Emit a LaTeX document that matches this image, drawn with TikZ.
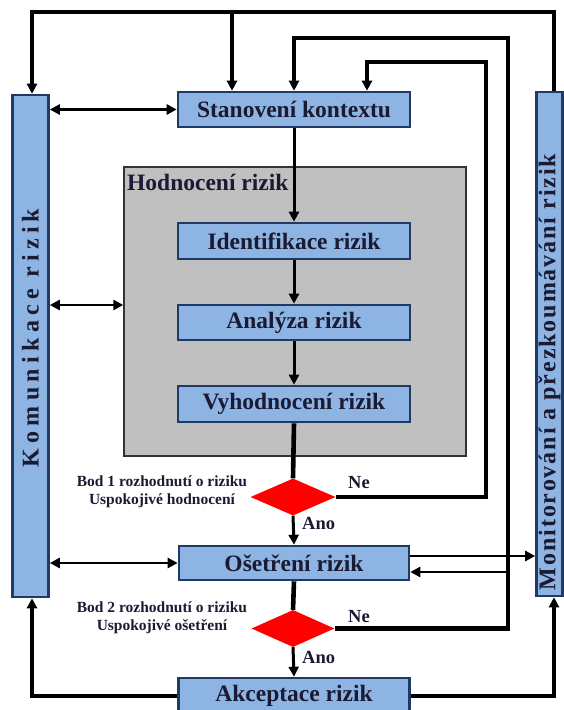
\documentclass[tikz,border=0pt]{standalone}
\usepackage{fontspec}
\setmainfont{Liberation Serif}
\usetikzlibrary{arrows.meta,shapes.geometric}
\definecolor{boxfill}{HTML}{8DB4E2}
\definecolor{boxline}{HTML}{1F3A64}
\definecolor{grayfill}{HTML}{C0C0C0}
\definecolor{txt}{HTML}{1A1A33}
\begin{document}
\begin{tikzpicture}[x=1pt,y=-1pt,
  bluebox/.style={draw=boxline, line width=2.6pt, fill=boxfill, inner sep=0pt,
    font=\fontsize{23.5}{25}\selectfont\bfseries, text=txt},
  dec/.style={diamond, fill=red, draw=none, inner sep=0pt},
  frame/.style={line width=3.6pt, draw=black},
  loopl/.style={line width=4.6pt, draw=black},
  dbl/.style={line width=2.8pt, {Triangle[length=10pt,width=10pt]}-{Triangle[length=10pt,width=10pt]}},
  arr/.style={-{Triangle[length=10pt,width=10pt]}},
  flow/.style={line width=3pt},
  small/.style={font=\fontsize{15.5}{18}\selectfont\bfseries, text=txt, align=center, inner sep=0pt},
  yn/.style={font=\fontsize{18.5}{20}\selectfont\bfseries, text=txt, inner sep=0pt, anchor=west},
  side/.style={font=\fontsize{24}{26}\selectfont\bfseries, text=txt, inner sep=0pt, rotate=90}
]
\useasboundingbox (0,0) rectangle (563,710);

% side boxes
\node[bluebox, minimum width=36pt, minimum height=502pt] (kom) at (30.5,346) {};
\node[side] (komt) at (30.5,338) {\addfontfeatures{LetterSpace=22}Komunikace rizik};
\node[bluebox, minimum width=26pt, minimum height=504pt] (mon) at (549.5,344) {};
\node[side] (mont) at (549.5,372) {\addfontfeatures{LetterSpace=8}Monitorování a přezkoumávání rizik};

% gray group
\node[draw=black!80, line width=1.4pt, fill=grayfill, minimum width=342pt, minimum height=289pt, inner sep=0pt] (hod) at (295,311.5) {};
\node[anchor=base west, font=\fontsize{23.5}{25}\selectfont\bfseries, text=txt, inner sep=0pt] (hodt) at (127,190) {Hodnocení rizik};

% main boxes
\node[bluebox, minimum width=232pt, minimum height=35pt] (stan) at (294,109.5) {Stanovení kontextu};
\node[bluebox, minimum width=232pt, minimum height=36pt] (ident) at (294,241) {Identifikace rizik};
\node[bluebox, minimum width=232pt, minimum height=35pt] (anal) at (294,322.5) {Analýza rizik};
\node[bluebox, minimum width=232pt, minimum height=36pt] (vyh) at (294,404) {Vyhodnocení rizik};
\node[dec, minimum width=85pt, minimum height=37pt] (d1) at (293,497) {};
\node[bluebox, minimum width=230pt, minimum height=34pt] (ose) at (294,563) {Ošetření rizik};
\node[dec, minimum width=83pt, minimum height=37pt] (d2) at (293,628.5) {};
\node[bluebox, minimum width=231pt, minimum height=36pt] (akc) at (294,696) {Akceptace rizik};

% labels
\node[small] (b1) at (162,492) {Bod 1 rozhodnutí o riziku\\Uspokojivé hodnocení};
\node[small] (b2) at (162,617.5) {Bod 2 rozhodnutí o riziku\\Uspokojivé ošetření};
\node[yn] (ne1) at (348,483) {Ne};
\node[yn] (ne2) at (348,617) {Ne};
\node[yn] (ano1) at (302,523) {Ano};
\node[yn] (ano2) at (302,657) {Ano};

% coordinates
\coordinate (tl) at (32,12);
\coordinate (tr) at (554,12);
\coordinate (tm) at (232,12);
\coordinate (l2) at (508,38);
\coordinate (l3) at (486,62);
\coordinate (x367) at (367,0);
\coordinate (h305) at (0,305);
\coordinate (o1) at (0,556);
\coordinate (r2) at (508,572);

% outer frame
\draw[frame, arr] (mon.north -| tr) |- (tl) -- (kom.north -| tl);
\draw[frame, arr] (tm) -- (stan.north -| tm);
% feedback loops
\draw[loopl, arr] (d2.east) -| (l2) -| (stan.north);
\draw[line width=2.8pt, arr] (r2) -- (r2 -| ose.east);
\draw[loopl, arr] (d1.east) -| (l3) -| (stan.north -| x367);
% communication arrows
\draw[dbl] (kom.east |- stan.west) -- (stan.west);
\draw[dbl] (kom.east |- h305) -- (hod.west |- h305);
\draw[dbl] (kom.east |- ose.west) -- (ose.west);
\draw[line width=2.8pt, arr] (ose.east |- o1) -- (mon.west |- o1);
% bottom returns
\draw[frame, arr] (akc.west) -| (tl |- kom.south);
\draw[frame, arr] (akc.east) -| (tr |- mon.south);
% main flow
\draw[flow, arr] (stan.south) -- (ident.north);
\draw[flow, arr] (ident.south) -- (anal.north);
\draw[flow, arr] (anal.south) -- (vyh.north);
\draw[loopl] (vyh.south) -- (d1.north);
\draw[flow, arr] (d1.south) -- (ose.north);
\draw[loopl] (ose.south) -- (d2.north);
\draw[flow, arr] (d2.south) -- (akc.north);
\end{tikzpicture}
\end{document}
